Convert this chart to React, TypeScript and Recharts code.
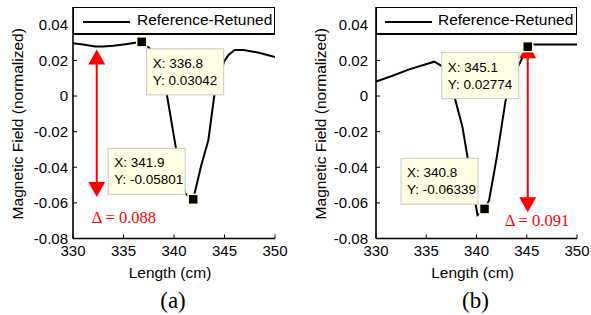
import React from 'react';
import { LineChart, Line, XAxis, YAxis, ReferenceDot, ReferenceLine } from 'recharts';

// ---------- data ----------
const lengthA = [330, 331, 332.2, 333, 334, 335, 336, 336.8, 337.6, 339.3, 340.2, 341.1, 341.9, 342.7, 343.4, 344.0, 344.95, 345.4, 346.0, 346.9, 348.5, 350];
const fieldA = [0.0297, 0.0289, 0.0278, 0.0278, 0.0282, 0.0290, 0.0298, 0.03042, 0.0267, 0.0006, -0.0295, -0.0547, -0.05801, -0.0389, -0.0248, 0.0006, 0.0193, 0.0231, 0.0259, 0.0259, 0.0242, 0.0219];

const lengthB = [330, 331.65, 333.3, 335.8, 336.9, 337.9, 338.6, 339.1, 340.1, 340.8, 341.25, 342.0, 342.9, 344.0, 345.1, 345.5, 350];
const fieldB = [0.0081, 0.0114, 0.0150, 0.0193, 0.0156, -0.0023, -0.0173, -0.0340, -0.0669, -0.06339, -0.0586, -0.0350, -0.0023, 0.0150, 0.02774, 0.0290, 0.0290];

const xTicks = [330, 335, 340, 345, 350];
const xTickLabels = ['330', '335', '340', '345', '350'];
const yTicks = [-0.08, -0.06, -0.04, -0.02, 0, 0.02, 0.04];
const yTickLabels = ['-0.08', '-0.06', '-0.04', '-0.02', '0', '0.02', '0.04'];

const tipsA = [
  { x: 336.8, y: 0.03042, xText: '336.8', yText: '0.03042' },
  { x: 341.9, y: -0.05801, xText: '341.9', yText: '-0.05801' },
];
const tipsB = [
  { x: 345.1, y: 0.02774, xText: '345.1', yText: '0.02774' },
  { x: 340.8, y: -0.06339, xText: '340.8', yText: '-0.06339' },
];

const arrowA = { x: 332.35, top: 0.0262, bottom: -0.0567, delta: '0.088' };
const arrowB = { x: 345.1, top: 0.0297, bottom: -0.0652, delta: '0.091' };

const seriesName = 'Reference-Retuned';
const yTitle = 'Magnetic Field (normalized)';
const xTitle = 'Length (cm)';

// ---------- styling ----------
const SANS = '"Liberation Sans", Arial, Helvetica, sans-serif';
const SERIF = '"Liberation Serif", "Times New Roman", serif';

const makeData = (xs: number[], ys: number[]) => xs.map((x, i) => ({ x, y: ys[i] }));
const dataA = makeData(lengthA, fieldA);
const dataB = makeData(lengthB, fieldB);

const YTickLeft = (gap: number) => (props: any) => {
  const { x, y, payload } = props;
  const idx = yTicks.indexOf(payload.value);
  return (
    <g>
      <line x1={x} x2={x + 4} y1={y} y2={y} stroke="#000" strokeWidth={1} />
      <text x={x - gap} y={y} dy="0.36em" textAnchor="end" fontSize={15} fontFamily={SANS} fill="#000">
        {idx >= 0 ? yTickLabels[idx] : payload.value}
      </text>
    </g>
  );
};

const YTickRight = (props: any) => {
  const { x, y } = props;
  return <line x1={x - 4} x2={x} y1={y} y2={y} stroke="#000" strokeWidth={1} />;
};

const XTick = (props: any) => {
  const { x, y, payload } = props;
  const idx = xTicks.indexOf(payload.value);
  return (
    <g>
      <line x1={x} x2={x} y1={y} y2={y - 4} stroke="#000" strokeWidth={1} />
      <text x={x} y={y + 17} textAnchor="middle" fontSize={15} fontFamily={SANS} fill="#000">
        {idx >= 0 ? xTickLabels[idx] : payload.value}
      </text>
    </g>
  );
};

const Square = (props: any) => {
  const { cx, cy } = props;
  return <rect x={cx - 5} y={cy - 5} width={10} height={10} fill="#000" stroke="#ffffd0" strokeWidth={1.5} />;
};

const makeTip = (tip: any, dx: number, dy: number, anchorRight: boolean, anchorBottom: boolean) => (p: any) => {
  const vb = p.viewBox || {};
  const cx = (vb.x ?? 0) + (vb.width ?? 0) / 2;
  const cy = (vb.y ?? 0) + (vb.height ?? 0) / 2;
  const w = 77;
  const h = 46;
  const left = anchorRight ? cx - dx - w : cx + dx;
  const top = anchorBottom ? cy - dy - h : cy + dy;
  return (
    <g>
      <rect x={left} y={top} width={w} height={h} fill="#ffffe4" stroke="#c8c8c8" strokeWidth={1} />
      <text x={left + 6} y={top + 19} fontSize={13.5} fontFamily={SANS} fill="#000">{'X: ' + tip.xText}</text>
      <text x={left + 6} y={top + 36} fontSize={13.5} fontFamily={SANS} fill="#000">{'Y: ' + tip.yText}</text>
    </g>
  );
};

const makeArrow = (arrow: any, tdx: number, tdy: number, cover: boolean) => (p: any) => {
  const x = p.x1;
  const yT = Math.min(p.y1, p.y2);
  const yB = Math.max(p.y1, p.y2);
  const hl = 15;
  const hw = 8.5;
  return (
    <g>
      {cover && <rect x={x - 26} y={yB - 12} width={60} height={37} fill="#fff" />}
      <line x1={x} x2={x} y1={yT + hl - 1} y2={yB - hl + 1} stroke="#ff0000" strokeWidth={2} />
      <polygon points={`${x},${yT} ${x - hw},${yT + hl} ${x + hw},${yT + hl}`} fill="#ff0000" />
      <polygon points={`${x},${yB} ${x - hw},${yB - hl} ${x + hw},${yB - hl}`} fill="#ff0000" />
      <text x={x + tdx} y={yB + tdy} fontSize={16.5} fontFamily={SERIF} fill="#ff0000">{'\u0394 = ' + arrow.delta}</text>
    </g>
  );
};

type PanelProps = {
  data: any[];
  tips: any[];
  arrow: any;
  width: number;
  marginRight: number;
  tickGap: number;
  letter: string;
  tipCfg: [number, number, boolean, boolean][];
  arrowText: [number, number];
  cover: boolean;
  legendWidth: number;
  legendSample: number;
  legendText: number;
};

const Panel = (pp: PanelProps) => {
  const H = 315;
  return (
    <div style={{ position: 'relative', width: pp.width, height: H }}>
      <LineChart width={pp.width} height={H} data={pp.data} margin={{ top: 7, right: pp.marginRight, bottom: 36.5, left: 0 }}>
        <XAxis
          dataKey="x"
          type="number"
          domain={[330, 350]}
          ticks={xTicks}
          allowDataOverflow
          height={40}
          tickSize={0}
          tickMargin={0}
          tickLine={false}
          axisLine={{ stroke: '#000', strokeWidth: 1.6 }}
          tick={XTick}
          interval={0}
          label={(lp: any) => {
            const vb = lp.viewBox || {};
            const cx = vb.x + vb.width / 2;
            return (
              <g>
                <text x={cx - 4} y={vb.y + 39.5} textAnchor="middle" fontSize={15.5} fontFamily={SANS} fill="#000">{xTitle}</text>
                <text x={cx - 1} y={vb.y + 69} textAnchor="middle" fontSize={23} fontFamily={SERIF} fill="#000">{pp.letter}</text>
              </g>
            );
          }}
        />
        <YAxis
          yAxisId="left"
          type="number"
          domain={[-0.08, 0.05]}
          ticks={yTicks}
          allowDataOverflow
          width={73}
          tickSize={0}
          tickMargin={0}
          tickLine={false}
          interval={0}
          axisLine={{ stroke: '#000', strokeWidth: 1.6 }}
          tick={YTickLeft(pp.tickGap)}
          label={(lp: any) => {
            const vb = lp.viewBox || {};
            const cy = vb.y + vb.height / 2;
            return (
              <text x={0} y={0} transform={`translate(${vb.x + 23},${cy + 1}) rotate(-90)`} textAnchor="middle" fontSize={15.5} fontFamily={SANS} fill="#000">
                {yTitle}
              </text>
            );
          }}
        />
        <YAxis
          yAxisId="right"
          orientation="right"
          type="number"
          domain={[-0.08, 0.05]}
          ticks={yTicks}
          allowDataOverflow
          width={0}
          tickSize={0}
          tickMargin={0}
          tickLine={false}
          interval={0}
          axisLine={{ stroke: '#000', strokeWidth: 1.6 }}
          tick={YTickRight}
        />
        <Line yAxisId="left" dataKey="y" type="linear" stroke="#000" strokeWidth={2} dot={false} isAnimationActive={false} />
        <ReferenceLine
          yAxisId="left"
          segment={[{ x: pp.arrow.x, y: pp.arrow.top }, { x: pp.arrow.x, y: pp.arrow.bottom }]}
          shape={makeArrow(pp.arrow, pp.arrowText[0], pp.arrowText[1], pp.cover)}
          ifOverflow="visible"
        />
        {pp.tips.map((t, i) => (
          <ReferenceDot
            key={i}
            yAxisId="left"
            x={t.x}
            y={t.y}
            r={5}
            shape={Square}
            ifOverflow="visible"
            label={makeTip(t, pp.tipCfg[i][0], pp.tipCfg[i][1], pp.tipCfg[i][2], pp.tipCfg[i][3])}
          />
        ))}
      </LineChart>
      <div
        style={{
          position: 'absolute',
          left: 73,
          top: 7,
          width: pp.legendWidth,
          height: 28,
          boxSizing: 'border-box',
          border: '1.5px solid #000',
          borderBottom: '2px solid #000',
          background: '#fff',
        }}
      >
        <div style={{ position: 'absolute', left: pp.legendSample, top: 13, width: 47, height: 0, borderTop: '2px solid #000' }} />
        <div
          style={{
            position: 'absolute',
            left: pp.legendText,
            top: 3,
            fontFamily: SANS,
            fontSize: 15.5,
            lineHeight: '18px',
            color: '#000',
            whiteSpace: 'nowrap',
          }}
        >
          {seriesName}
        </div>
      </div>
    </div>
  );
};

export default function App() {
  return (
    <div style={{ position: 'absolute', left: 0, top: 0, width: 591, height: 315, background: '#fff', overflow: 'hidden' }}>
      <div style={{ position: 'absolute', left: 0, top: 0 }}>
        <Panel
          data={dataA}
          tips={tipsA}
          arrow={arrowA}
          width={295}
          marginRight={20}
          tickGap={5}
          letter="(a)"
          tipCfg={[[5, 7, false, false], [8, 5, true, true]]}
          arrowText={[-5, 25.5]}
          cover={false}
          legendWidth={202}
          legendSample={9}
          legendText={63}
        />
      </div>
      <div style={{ position: 'absolute', left: 303, top: 0 }}>
        <Panel
          data={dataB}
          tips={tipsB}
          arrow={arrowB}
          width={288}
          marginRight={14}
          tickGap={8}
          letter="(b)"
          tipCfg={[[9, 6, true, false], [6.5, 4.7, true, true]]}
          arrowText={[-23, 13.5]}
          cover={true}
          legendWidth={201}
          legendSample={8}
          legendText={61}
        />
      </div>
    </div>
  );
}
